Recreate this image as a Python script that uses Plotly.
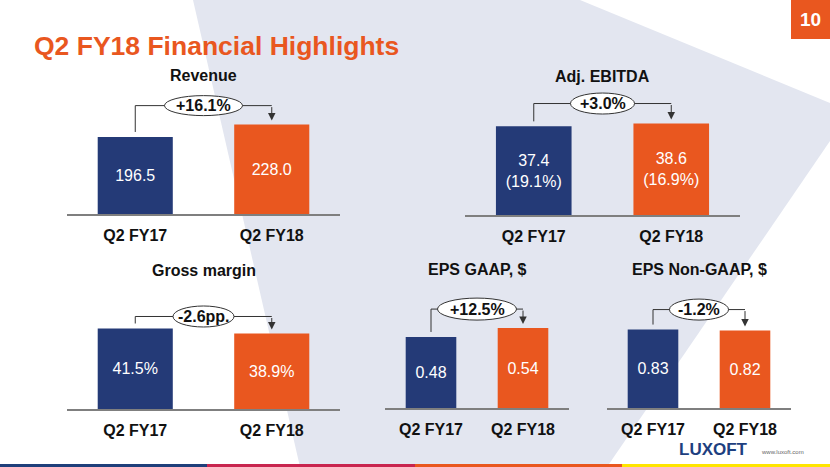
import plotly.graph_objects as go

W, H = 830, 467

# ---------------- data ----------------
periods = ["Q2 FY17", "Q2 FY18"]
revenue = [196.5, 228.0]
adj_ebitda = [37.4, 38.6]
adj_ebitda_margin = ["19.1%", "16.9%"]
gross_margin = [41.5, 38.9]
eps_gaap = [0.48, 0.54]
eps_non_gaap = [0.83, 0.82]
panel_titles = ["Revenue", "Adj. EBITDA", "Gross margin", "EPS GAAP, $", "EPS Non-GAAP, $"]
change_labels = ["+16.1%", "+3.0%", "-2.6pp.", "+12.5%", "-1.2%"]
slide_title = "Q2 FY18 Financial Highlights"
page_number = "10"

# ---------------- style ----------------
FONT = "Arial, 'Liberation Sans', sans-serif"
NAVY = "#243a77"
ORANGE = "#e9571f"
BG_GRAY = "#e3e6f0"
LINE_GRAY = "#7f7f7f"
DARK = "#333333"

values = [revenue, adj_ebitda, gross_margin, eps_gaap, eps_non_gaap]
texts = [
    [f"{v:.1f}" for v in revenue],
    [f"{v:.1f}<br>({m})" for v, m in zip(adj_ebitda, adj_ebitda_margin)],
    [f"{v:.1f}%" for v in gross_margin],
    [f"{v:.2f}" for v in eps_gaap],
    [f"{v:.2f}" for v in eps_non_gaap],
]

# panel geometry in pixels: left, right of baseline, baseline y, px per unit,
# bracket height above highest bar, ellipse width/height
geo = [
    dict(x0=67, x1=340, base=214, k=0.392, lvl=19, ew=78, eh=20),
    dict(x0=465, x1=740, base=215, k=2.37, lvl=20, ew=64, eh=21),
    dict(x0=67, x1=340, base=409, k=1.94, lvl=12, ew=61, eh=21),
    dict(x0=385, x1=569, base=408, k=148.0, lvl=19, ew=79, eh=22),
    dict(x0=607, x1=791, base=408, k=94.5, lvl=20, ew=59, eh=21),
]
DOMAIN_H = 132


def px(x):
    return x / W


def py(y):
    return 1 - y / H


fig = go.Figure()
layout = {}
shapes = []
annotations = []

# background polygon
bg_pts = [(193, 0), (580, 0), (830, 103), (830, 141), (607, 467), (300, 467)]
path = "M " + " L ".join(f"{px(x)},{py(y)}" for x, y in bg_pts) + " Z"
shapes.append(dict(type="path", xref="paper", yref="paper", path=path,
                   fillcolor=BG_GRAY, line=dict(width=0), layer="below"))

for i in range(5):
    g = geo[i]
    n = "" if i == 0 else str(i + 1)
    xa, ya = "x" + n, "y" + n
    vals = values[i]
    fig.add_trace(go.Bar(
        x=[0, 1], y=vals, text=texts[i], textposition="inside",
        insidetextanchor="middle", textangle=0, constraintext="none",
        textfont=dict(color="white", size=16, family=FONT),
        marker=dict(color=[NAVY, ORANGE], line=dict(width=0)),
        width=0.55, xaxis=xa, yaxis=ya, hoverinfo="skip", showlegend=False,
    ))
    layout["xaxis" + n] = dict(
        domain=[px(g["x0"]), px(g["x1"])], range=[-0.5, 1.5], anchor=ya,
        tickmode="array", tickvals=[0, 1], ticktext=periods, ticks="",
        showline=True, linecolor=LINE_GRAY, linewidth=2, showgrid=False,
        zeroline=False, fixedrange=True, ticklabelstandoff=6,
        tickfont=dict(size=16, color="#111111", family=FONT, weight="bold"),
    )
    layout["yaxis" + n] = dict(
        domain=[py(g["base"]), py(g["base"] - DOMAIN_H)],
        range=[0, DOMAIN_H / g["k"]], anchor=xa, visible=False, fixedrange=True,
    )
    # panel title
    annotations.append(dict(
        xref="paper", yref="paper", x=px((g["x0"] + g["x1"]) / 2),
        y=py(g["base"] - 139), text=f"<b>{panel_titles[i]}</b>",
        showarrow=False, xanchor="center", yanchor="middle",
        font=dict(size=16, color="#111111", family=FONT),
    ))
    # bracket
    k = g["k"]
    top = max(vals)
    level = top + g["lvl"] / k
    start = vals[0] + 5 / k
    tip = vals[1] + 4 / k
    shapes.append(dict(type="path", xref=xa, yref=ya,
                       path=f"M 0,{start} L 0,{level} L 1,{level}",
                       line=dict(color=DARK, width=1)))
    annotations.append(dict(
        xref=xa, yref=ya, x=1, y=tip, axref=xa, ayref=ya, ax=1, ay=level,
        text="", showarrow=True, arrowhead=2, arrowsize=1.5, arrowwidth=1,
        arrowcolor=DARK,
    ))
    shapes.append(dict(type="circle", xref=xa, yref=ya,
                       xsizemode="pixel", ysizemode="pixel",
                       xanchor=0.5, yanchor=level,
                       x0=-g["ew"] / 2, x1=g["ew"] / 2,
                       y0=-g["eh"] / 2, y1=g["eh"] / 2,
                       fillcolor="white", line=dict(color=DARK, width=1)))
    annotations.append(dict(
        xref=xa, yref=ya, x=0.5, y=level, text=f"<b>{change_labels[i]}</b>",
        showarrow=False, xanchor="center", yanchor="middle",
        font=dict(size=16, color="#111111", family=FONT),
    ))

# slide title
annotations.append(dict(xref="paper", yref="paper", x=px(32), y=py(46),
                        text=f"<b>{slide_title}</b>", showarrow=False,
                        xanchor="left", yanchor="middle",
                        font=dict(size=26.5, color=ORANGE, family=FONT)))
# page number box
shapes.append(dict(type="rect", xref="paper", yref="paper",
                   x0=px(791), x1=px(830), y0=py(39), y1=py(0),
                   fillcolor=ORANGE, line=dict(width=0)))
annotations.append(dict(xref="paper", yref="paper", x=px(810.5), y=py(20),
                        text=f"<b>{page_number}</b>", showarrow=False,
                        xanchor="center", yanchor="middle",
                        font=dict(size=19, color="white", family=FONT)))
# bottom stripe
for c, a, b in [("#1f3f7a", 0, 207), ("#c8254f", 207, 415),
                (ORANGE, 415, 622), ("#ffe500", 622, 830)]:
    shapes.append(dict(type="rect", xref="paper", yref="paper",
                       x0=px(a), x1=px(b), y0=py(467), y1=py(464),
                       fillcolor=c, line=dict(width=0)))
# logo
annotations.append(dict(xref="paper", yref="paper", x=px(713), y=py(449),
                        text="<b>LUXOFT</b>", showarrow=False,
                        xanchor="center", yanchor="middle",
                        font=dict(size=17, color="#1e3f80", family=FONT)))
annotations.append(dict(xref="paper", yref="paper", x=px(759), y=py(452),
                        text="www.luxoft.com", showarrow=False,
                        xanchor="left", yanchor="middle",
                        font=dict(size=6, color="#666666", family=FONT)))

fig.update_layout(
    width=W, height=H, margin=dict(l=0, r=0, t=0, b=0),
    paper_bgcolor="white", plot_bgcolor="rgba(0,0,0,0)",
    shapes=shapes, annotations=annotations, bargap=0.45,
    font=dict(family=FONT), **layout,
)
fig.write_html(
    "out.html",
    config={"displayModeBar": False, "staticPlot": True},
    post_script="document.body.style.margin='0';document.body.style.overflow='hidden';",
)
